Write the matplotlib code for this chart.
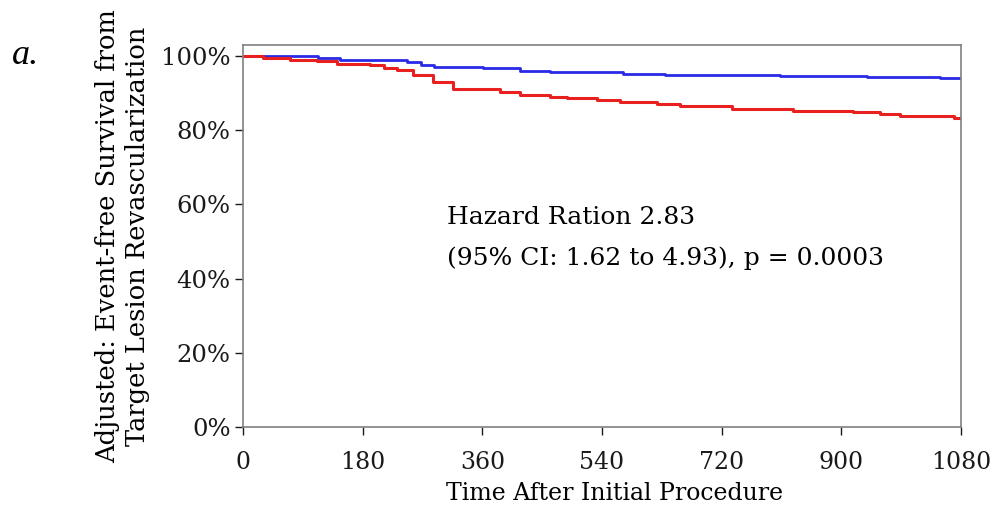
import matplotlib
matplotlib.use("Agg")
import matplotlib.pyplot as plt
from matplotlib.ticker import FuncFormatter

# Kaplan-Meier style step data (days, survival %)
blue_t = [0, 113, 146, 247, 267, 287, 307, 361, 417, 462, 572, 635, 808, 938, 1048, 1080]
blue_s = [100, 99.4, 98.9, 98.3, 97.7, 97.1, 97.0, 96.7, 96.1, 95.8, 95.2, 94.9, 94.6, 94.3, 94.0, 94.0]

red_t = [0, 30, 71, 111, 141, 191, 212, 232, 256, 286, 316, 387, 417, 462, 487, 532, 567, 622, 657, 735, 827, 917, 958, 988, 1070, 1080]
red_s = [100, 99.4, 98.9, 98.7, 98.0, 97.6, 96.9, 96.2, 94.9, 93.1, 91.2, 90.4, 89.5, 89.0, 88.6, 88.1, 87.5, 87.0, 86.5, 85.7, 85.3, 84.8, 84.3, 83.9, 83.4, 83.4]

x_ticks = [0, 180, 360, 540, 720, 900, 1080]
y_ticks = [0, 20, 40, 60, 80, 100]

plt.rcParams['font.family'] = ['DejaVu Serif']

fig = plt.figure(figsize=(9.93, 5.07), dpi=100)
ax = fig.add_axes([243/993, 1-427/507, (961-243)/993, (427-45)/507])

ax.step(blue_t, blue_s, where='post', color='#2a2ae6', lw=2.0)
ax.step(red_t, red_s, where='post', color='#e82020', lw=2.2)

ax.set_xlim(0, 1080)
ax.set_ylim(0, 103.0)
ax.set_xticks(x_ticks)
ax.set_yticks(y_ticks)
ax.yaxis.set_major_formatter(FuncFormatter(lambda v, p: f"{int(v)}%"))
ax.tick_params(direction='out', length=6, width=1, labelsize=17.5, colors='#1a1a1a', pad=3)
ax.tick_params(axis='x', pad=11, labelsize=17)
for sp in ax.spines.values():
    sp.set_color('#808080')
    sp.set_linewidth(1.2)

ax.set_xlabel("Time After Initial Procedure", fontsize=17, labelpad=7)
ax.xaxis.set_label_coords(0.517, -0.143)
ax.set_ylabel("Adjusted: Event-free Survival from\nTarget Lesion Revascularization", fontsize=18.5, labelpad=8, linespacing=1.25)

ax.text(307, 59.5, "Hazard Ration 2.83\n(95% CI: 1.62 to 4.93), p = 0.0003", fontsize=18,
        va='top', ha='left', linespacing=1.95)

fig.text(12/993, 1-55/507, "a.", fontsize=26, style='italic', va='center', ha='left',
         family='Liberation Serif')

fig.savefig("out.png", dpi=100)
